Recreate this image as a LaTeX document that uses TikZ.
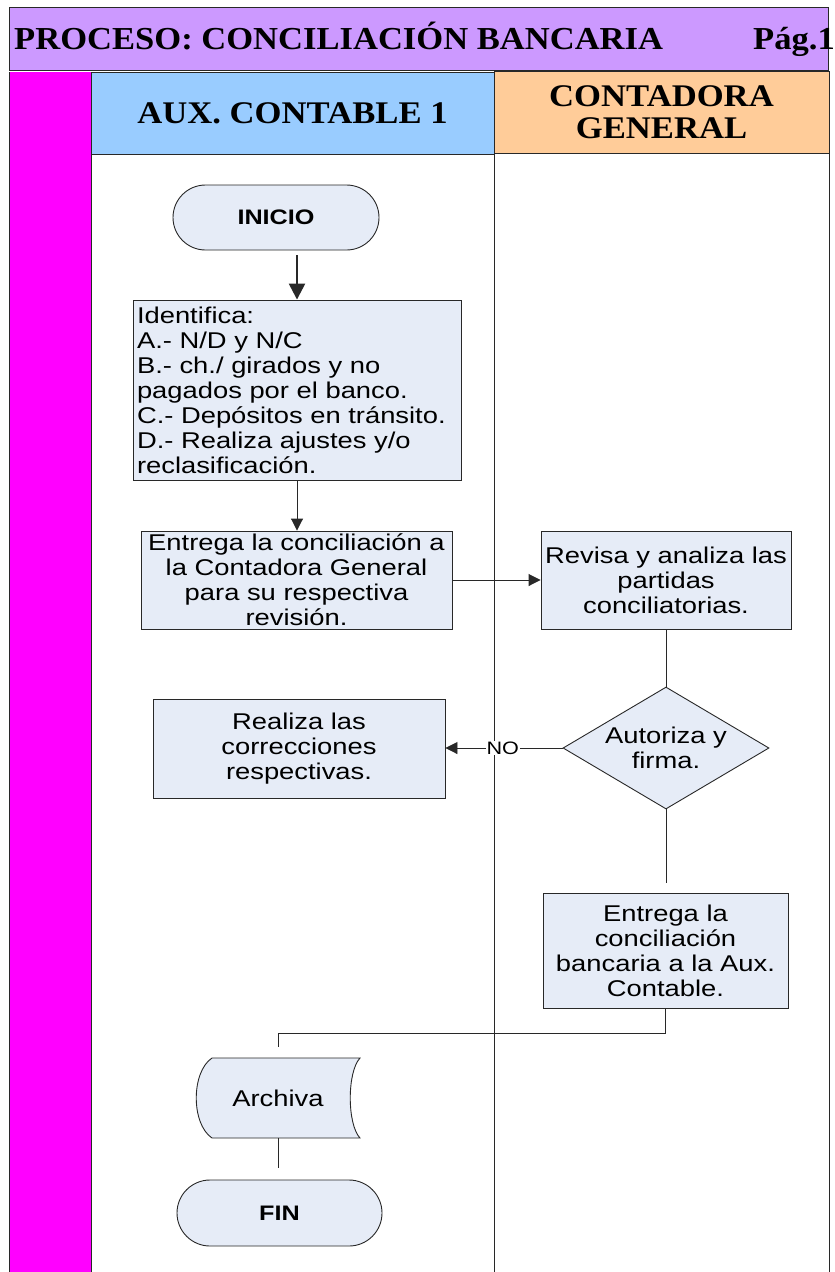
\documentclass[tikz,border=0pt]{standalone}
\usepackage{fontspec}
\setmainfont{Liberation Serif}
\newfontfamily\tnrT[FakeStretch=1.08]{Liberation Serif}
\newfontfamily\tnrL[FakeStretch=1.1]{Liberation Serif}
\newfontfamily\arl[FakeStretch=1.2]{Liberation Sans}
\usetikzlibrary{shapes.geometric,shapes.misc,arrows.meta}
\definecolor{hdrpurple}{RGB}{204,153,255}
\definecolor{lanemag}{RGB}{255,0,255}
\definecolor{laneblue}{RGB}{153,204,255}
\definecolor{laneorange}{RGB}{255,204,153}
\definecolor{shapefill}{RGB}{230,236,247}
\definecolor{linecol}{RGB}{40,40,40}
\begin{document}
\begin{tikzpicture}[x=1pt,y=-1pt,
 lanehead/.style={draw=linecol, line width=1pt, inner sep=0pt, align=center, font={\tnrL\bfseries\fontsize{31.5}{32.5}\selectfont}},
 procbox/.style={draw=linecol, line width=0.9pt, fill=shapefill, inner sep=0pt, align=center, font={\arl\fontsize{22.8}{25}\selectfont}},
 term/.style={rounded rectangle, draw=linecol, line width=0.9pt, fill=shapefill, minimum width=206pt, minimum height=65pt, inner sep=0pt, font={\arl\bfseries\fontsize{21}{24}\selectfont}},
 decision/.style={diamond, aspect=1.69, draw=linecol, line width=0.9pt, fill=shapefill, inner sep=0pt, minimum width=206pt, minimum height=122pt, align=center, font={\arl\fontsize{22.8}{25}\selectfont}},
 conn/.style={draw=linecol, line width=0.9pt},
 arr/.style={conn, -{Triangle[length=12pt,width=12pt]}},
]
\useasboundingbox (0,0) rectangle (835,1272);
\fill[white] (0,0) rectangle (835,1272);
% header band
\node[draw=linecol, line width=1pt, fill=hdrpurple, minimum width=819pt, minimum height=63pt, inner sep=0pt] (hdr) at (418.5,38.5) {};
% magenta strip
\fill[lanemag] (9,72) rectangle (91,1272);
% lane headers
\node[lanehead, fill=laneblue, minimum width=403pt, minimum height=82pt] (lane1) at (292.5,113) {AUX. CONTABLE 1};
\node[lanehead, fill=laneorange, minimum width=335pt, minimum height=82pt] (lane2) at (661.5,112) {CONTADORA\\GENERAL};
% lane lines
\draw[linecol, line width=1pt] (9,72) -- (9,1272);
\draw[linecol, line width=1pt] (91,72) -- (91,1272);
\draw[linecol, line width=1pt] (494,72) -- (494,1272);
\draw[linecol, line width=1pt] (829,72) -- (829,1272);
% titles
\node[anchor=base west, inner sep=0pt, font={\tnrT\bfseries\fontsize{32}{34}\selectfont}] (title) at (14,49) {PROCESO: CONCILIACIÓN BANCARIA};
\node[anchor=base east, inner sep=0pt, font={\tnrT\bfseries\fontsize{32}{34}\selectfont}] (pag) at (835,49) {Pág.1};
% flow nodes
\node[term] (inicio) at (276,217.5) {INICIO};
\node[procbox, align=left, inner xsep=4pt, text width=320pt, minimum height=180pt] (ident) at (297,390) {Identifica:\\A.- N/D y N/C\\B.- ch./ girados y no\\pagados por el banco.\\C.- Depósitos en tránsito.\\D.- Realiza ajustes y/o\\reclasificación.};
\node[procbox, minimum width=311pt, minimum height=98pt] (ent1) at (296.5,580) {Entrega la conciliación a\\la Contadora General\\para su respectiva\\revisión.};
\node[procbox, minimum width=250pt, minimum height=98pt] (rev) at (666,580) {Revisa y analiza las\\partidas\\conciliatorias.};
\node[decision] (dec) at (666,748) {Autoriza y\\firma.};
\node[procbox, minimum width=292pt, minimum height=99pt] (real) at (299,748.5) {Realiza las\\correcciones\\respectivas.};
\node[procbox, minimum width=245pt, minimum height=115pt] (ent2) at (665.5,950.5) {Entrega la\\conciliación\\bancaria a la Aux.\\Contable.};
% stored-data shape for Archiva
\filldraw[fill=shapefill, draw=linecol, line width=0.9pt] (212,1058) -- (360,1058) .. controls (347,1072) and (347,1124) .. (360,1138) -- (212,1138) .. controls (191,1124) and (191,1072) .. (212,1058) -- cycle;
\node[minimum width=164pt, minimum height=80pt, inner sep=0pt, font={\arl\fontsize{22.8}{25}\selectfont}] (arch) at (278,1098) {Archiva};
\node[term, minimum width=205pt, minimum height=66pt] (fin) at (279.5,1213) {FIN};
% connectors
\draw[conn, line width=2.5pt, -{Triangle[length=16pt,width=16pt]}, shorten <=5pt] (inicio.south -| ident.north) -- (ident.north);
\draw[arr] (ident.south) -- (ident.south |- ent1.north);
\draw[arr] (ent1.east) -- (ent1.east -| rev.west);
\draw[conn] (rev.south) -- (dec.north);
\draw[arr] (dec.west) -- node[pos=0.51, fill=white, inner sep=1pt, font={\arl\fontsize{18}{20}\selectfont}] (nolbl) {NO} (dec.west -| real.east);
\draw[conn, shorten >=10pt] (dec.south) -- (dec.south |- ent2.north);
\coordinate (jn) at (665.5,1033);
\draw[conn, shorten >=11pt] (ent2.south) -- (jn) -| (arch.north);
\draw[conn, shorten >=12pt] (arch.south) -- (arch.south |- fin.north);
\end{tikzpicture}
\end{document}
